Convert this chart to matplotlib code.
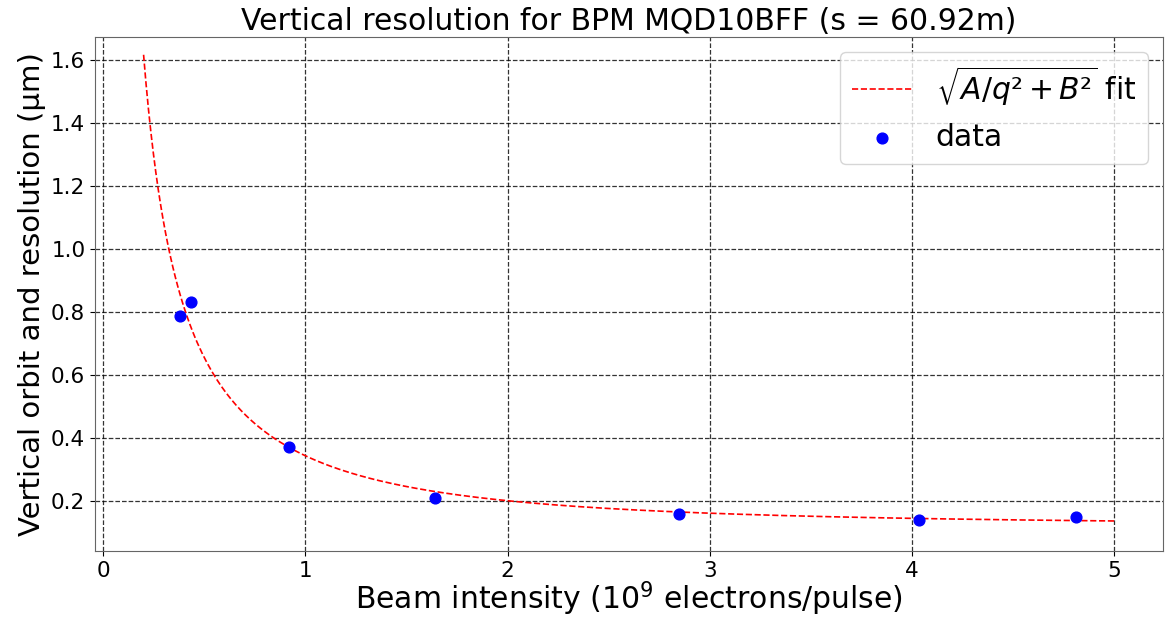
import matplotlib.pyplot as plt
import numpy as np

# measured points
intensity = [0.38, 0.435, 0.92, 1.64, 2.845, 4.035, 4.81]
resolution = [0.787, 0.834, 0.373, 0.210, 0.161, 0.142, 0.150]

# fit parameters: sqrt(A/q^2 + B^2)
A = 0.104
B = 0.122
q_min, q_max = 0.2, 5.0

q = np.linspace(q_min, q_max, 400)
fit = np.sqrt(A / q**2 + B**2)

fig = plt.figure(figsize=(11.69, 6.19), dpi=100)
ax = fig.add_axes([0.0813, 0.11, 0.9136, 0.83])

ax.plot(q, fit, 'r--', lw=1.2, label=r'$\sqrt{A/q²+B²}$ fit')
ax.scatter(intensity, resolution, color='b', s=60, label='data', zorder=3)

ax.set_xlim(-0.04, 5.24)
ax.set_ylim(0.043, 1.673)
ax.set_xticks([0, 1, 2, 3, 4, 5])
ax.set_yticks([0.2, 0.4, 0.6, 0.8, 1.0, 1.2, 1.4, 1.6])
ax.tick_params(labelsize=15.5)
ax.grid(True, color='k', linestyle='--', lw=0.9, alpha=0.8)
for sp in ax.spines.values():
    sp.set_color('#666666')

ax.set_title('Vertical resolution for BPM MQD10BFF (s = 60.92m)', fontsize=21.5, pad=5)
ax.set_xlabel('Beam intensity ($10^9$ electrons/pulse)', fontsize=21.5, labelpad=-1)
ax.set_ylabel('Vertical orbit and resolution (μm)', fontsize=21, labelpad=4)
ax.legend(loc='upper right', fontsize=21.5)

fig.savefig('out.png')
